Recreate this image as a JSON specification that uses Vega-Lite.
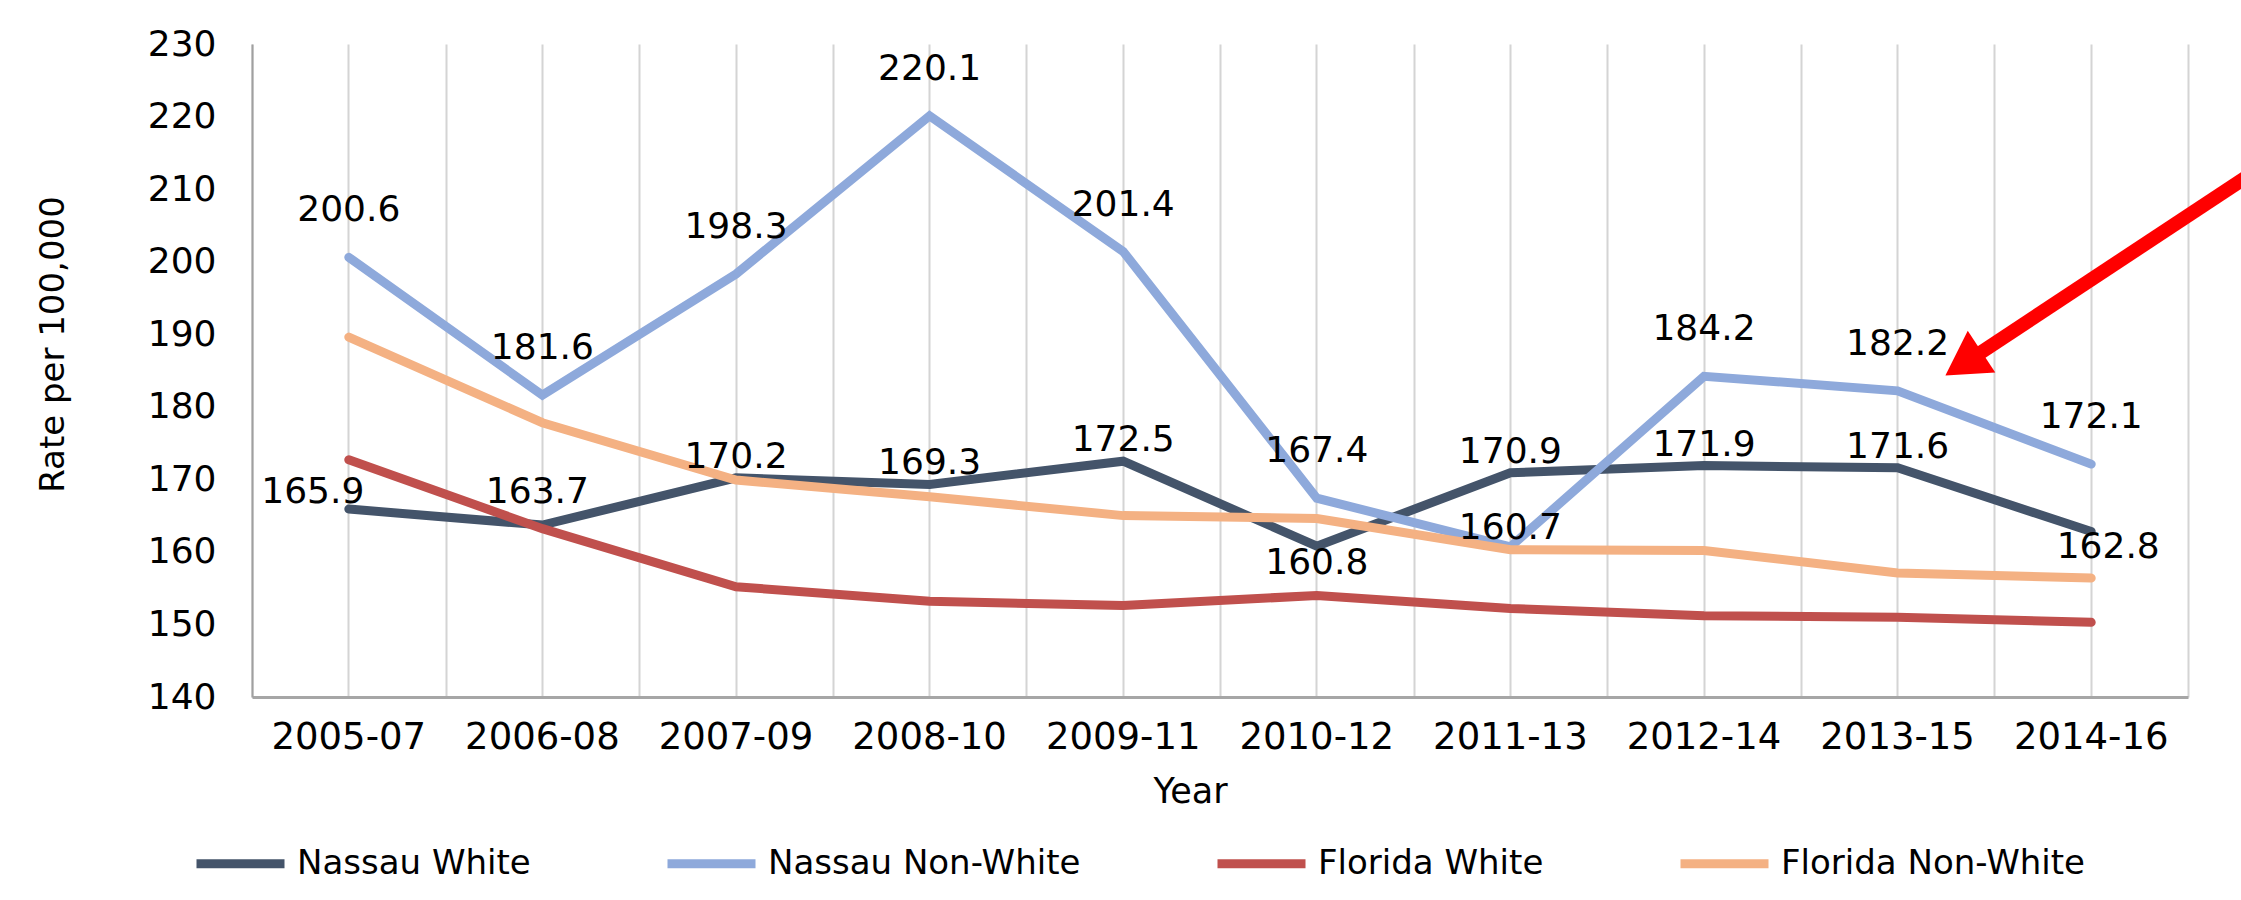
{
  "$schema": "https://vega.github.io/schema/vega-lite/v6.json",
  "width": 1936,
  "height": 653,
  "autosize": {"type": "none"},
  "padding": {"left": 252, "top": 44, "right": 53, "bottom": 203},
  "background": "white",
  "config": {
    "view": {"stroke": null},
    "font": "DejaVu Sans",
    "text": {"font": "DejaVu Sans"}
  },
  "data": {
    "values": [
      {"Year": "2005-07", "Series": "Nassau White", "Rate": 165.9},
      {"Year": "2006-08", "Series": "Nassau White", "Rate": 163.7},
      {"Year": "2007-09", "Series": "Nassau White", "Rate": 170.2},
      {"Year": "2008-10", "Series": "Nassau White", "Rate": 169.3},
      {"Year": "2009-11", "Series": "Nassau White", "Rate": 172.5},
      {"Year": "2010-12", "Series": "Nassau White", "Rate": 160.8},
      {"Year": "2011-13", "Series": "Nassau White", "Rate": 170.9},
      {"Year": "2012-14", "Series": "Nassau White", "Rate": 171.9},
      {"Year": "2013-15", "Series": "Nassau White", "Rate": 171.6},
      {"Year": "2014-16", "Series": "Nassau White", "Rate": 162.8},
      {"Year": "2005-07", "Series": "Nassau Non-White", "Rate": 200.6},
      {"Year": "2006-08", "Series": "Nassau Non-White", "Rate": 181.6},
      {"Year": "2007-09", "Series": "Nassau Non-White", "Rate": 198.3},
      {"Year": "2008-10", "Series": "Nassau Non-White", "Rate": 220.1},
      {"Year": "2009-11", "Series": "Nassau Non-White", "Rate": 201.4},
      {"Year": "2010-12", "Series": "Nassau Non-White", "Rate": 167.4},
      {"Year": "2011-13", "Series": "Nassau Non-White", "Rate": 160.7},
      {"Year": "2012-14", "Series": "Nassau Non-White", "Rate": 184.2},
      {"Year": "2013-15", "Series": "Nassau Non-White", "Rate": 182.2},
      {"Year": "2014-16", "Series": "Nassau Non-White", "Rate": 172.1},
      {"Year": "2005-07", "Series": "Florida White", "Rate": 172.7},
      {"Year": "2006-08", "Series": "Florida White", "Rate": 163.2},
      {"Year": "2007-09", "Series": "Florida White", "Rate": 155.2},
      {"Year": "2008-10", "Series": "Florida White", "Rate": 153.2},
      {"Year": "2009-11", "Series": "Florida White", "Rate": 152.6},
      {"Year": "2010-12", "Series": "Florida White", "Rate": 154.0},
      {"Year": "2011-13", "Series": "Florida White", "Rate": 152.2},
      {"Year": "2012-14", "Series": "Florida White", "Rate": 151.2},
      {"Year": "2013-15", "Series": "Florida White", "Rate": 151.0},
      {"Year": "2014-16", "Series": "Florida White", "Rate": 150.3},
      {"Year": "2005-07", "Series": "Florida Non-White", "Rate": 189.6},
      {"Year": "2006-08", "Series": "Florida Non-White", "Rate": 177.8},
      {"Year": "2007-09", "Series": "Florida Non-White", "Rate": 169.9},
      {"Year": "2008-10", "Series": "Florida Non-White", "Rate": 167.6},
      {"Year": "2009-11", "Series": "Florida Non-White", "Rate": 165.0},
      {"Year": "2010-12", "Series": "Florida Non-White", "Rate": 164.6},
      {"Year": "2011-13", "Series": "Florida Non-White", "Rate": 160.3},
      {"Year": "2012-14", "Series": "Florida Non-White", "Rate": 160.2},
      {"Year": "2013-15", "Series": "Florida Non-White", "Rate": 157.1},
      {"Year": "2014-16", "Series": "Florida Non-White", "Rate": 156.4}
    ]
  },
  "encoding": {
    "y": {
      "field": "Rate",
      "type": "quantitative",
      "scale": {"domain": [140, 230], "nice": false, "zero": false},
      "axis": {
        "title": "Rate per 100,000",
        "values": [140, 150, 160, 170, 180, 190, 200, 210, 220, 230],
        "grid": false,
        "ticks": false,
        "domain": true,
        "domainColor": "#a0a0a0",
        "domainWidth": 2,
        "labelFontSize": 36,
        "labelColor": "#000000",
        "labelPadding": 36,
        "labelFont": "DejaVu Sans",
        "titleFont": "DejaVu Sans",
        "titleFontSize": 34,
        "titleFontWeight": "normal",
        "titleColor": "#000000",
        "titleAngle": 270,
        "titleX": -199,
        "titleY": 300,
        "titleAlign": "center",
        "titleBaseline": "middle"
      }
    }
  },
  "layer": [
    {
      "encoding": {
        "x": {
          "field": "Year",
          "type": "ordinal",
          "scale": {"type": "band", "paddingInner": 0, "paddingOuter": 0},
          "axis": {
            "orient": "bottom",
            "title": "Year",
            "labelAngle": 0,
            "bandPosition": 0.5,
            "grid": true,
            "gridColor": "#d4d4d4",
            "gridWidth": 2,
            "ticks": false,
            "domain": true,
            "domainColor": "#a6a6a6",
            "domainWidth": 3,
            "labelFontSize": 37,
            "labelColor": "#000000",
            "labelPadding": 22,
            "labelFont": "DejaVu Sans",
            "titleFont": "DejaVu Sans",
            "titleFontSize": 35,
            "titleFontWeight": "normal",
            "titleColor": "#000000",
            "titleX": 938,
            "titleY": 94,
            "titleAlign": "center",
            "titleBaseline": "middle"
          }
        }
      },
      "layer": [
        {
          "mark": {"type": "line", "strokeWidth": 9, "strokeCap": "round"},
          "encoding": {
            "color": {
              "field": "Series",
              "type": "nominal",
              "scale": {
                "domain": ["Nassau White", "Nassau Non-White", "Florida White", "Florida Non-White"],
                "range": ["#44546A", "#8EA9DB", "#C0504D", "#F4B183"]
              },
              "legend": {
                "orient": "none",
                "legendX": -60,
                "legendY": 771,
                "direction": "horizontal",
                "title": null,
                "symbolType": "stroke",
                "symbolSize": 7744,
                "symbolStrokeWidth": 9,
                "labelFontSize": 34,
                "labelFont": "DejaVu Sans",
                "labelColor": "#000000",
                "labelOffset": 8,
                "labelLimit": 800,
                "columnPadding": 118
              }
            }
          }
        },
        {
          "transform": [{"filter": "datum.Series == 'Nassau White' && indexof(['2005-07','2006-08','2010-12','2014-16'], datum.Year) < 0"}],
          "mark": {"type": "text", "fontSize": 36, "color": "#000000", "align": "center", "baseline": "middle", "dy": -21},
          "encoding": {"text": {"field": "Rate", "type": "quantitative", "format": ".1f"}}
        },
        {
          "transform": [{"filter": "datum.Series == 'Nassau White' && datum.Year == '2005-07'"}],
          "mark": {"type": "text", "fontSize": 36, "color": "#000000", "align": "center", "baseline": "middle", "dx": -36, "dy": -17},
          "encoding": {"text": {"field": "Rate", "type": "quantitative", "format": ".1f"}}
        },
        {
          "transform": [{"filter": "datum.Series == 'Nassau White' && datum.Year == '2006-08'"}],
          "mark": {"type": "text", "fontSize": 36, "color": "#000000", "align": "center", "baseline": "middle", "dx": -5, "dy": -33},
          "encoding": {"text": {"field": "Rate", "type": "quantitative", "format": ".1f"}}
        },
        {
          "transform": [{"filter": "datum.Series == 'Nassau White' && datum.Year == '2010-12'"}],
          "mark": {"type": "text", "fontSize": 36, "color": "#000000", "align": "center", "baseline": "middle", "dy": 17},
          "encoding": {"text": {"field": "Rate", "type": "quantitative", "format": ".1f"}}
        },
        {
          "transform": [{"filter": "datum.Series == 'Nassau White' && datum.Year == '2014-16'"}],
          "mark": {"type": "text", "fontSize": 36, "color": "#000000", "align": "center", "baseline": "middle", "dx": 17, "dy": 15},
          "encoding": {"text": {"field": "Rate", "type": "quantitative", "format": ".1f"}}
        },
        {
          "transform": [{"filter": "datum.Series == 'Nassau Non-White' && datum.Year != '2011-13'"}],
          "mark": {"type": "text", "fontSize": 36, "color": "#000000", "align": "center", "baseline": "middle", "dy": -47},
          "encoding": {"text": {"field": "Rate", "type": "quantitative", "format": ".1f"}}
        },
        {
          "transform": [{"filter": "datum.Series == 'Nassau Non-White' && datum.Year == '2011-13'"}],
          "mark": {"type": "text", "fontSize": 36, "color": "#000000", "align": "center", "baseline": "middle", "dy": -19},
          "encoding": {"text": {"field": "Rate", "type": "quantitative", "format": ".1f"}}
        }
      ]
    },
    {
      "encoding": {
        "x": {
          "field": "ax",
          "type": "quantitative",
          "scale": {"domain": [-0.5, 9.5], "nice": false, "zero": false},
          "axis": {
            "orient": "top",
            "values": [-0.5, 0.5, 1.5, 2.5, 3.5, 4.5, 5.5, 6.5, 7.5, 8.5, 9.5],
            "grid": true,
            "gridColor": "#d4d4d4",
            "gridWidth": 2,
            "labels": false,
            "ticks": false,
            "domain": false,
            "title": null
          }
        }
      },
      "layer": [
        {
          "data": {"values": [{"ax": 9.9, "Rate": 213.4, "ax2": 8.34, "Rate2": 185.9}]},
          "mark": {"type": "rule", "color": "#FF0000", "strokeWidth": 14, "strokeCap": "butt"},
          "encoding": {
            "x2": {"field": "ax2"},
            "y2": {"field": "Rate2"}
          }
        },
        {
          "data": {"values": [{"ax": 8.34, "Rate": 185.95}]},
          "mark": {"type": "point", "shape": "triangle-up", "size": 2500, "angle": 236.6, "filled": true, "fill": "#FF0000", "stroke": null, "opacity": 1},
          "encoding": {}
        }
      ]
    }
  ],
  "resolve": {"scale": {"x": "independent"}}
}
